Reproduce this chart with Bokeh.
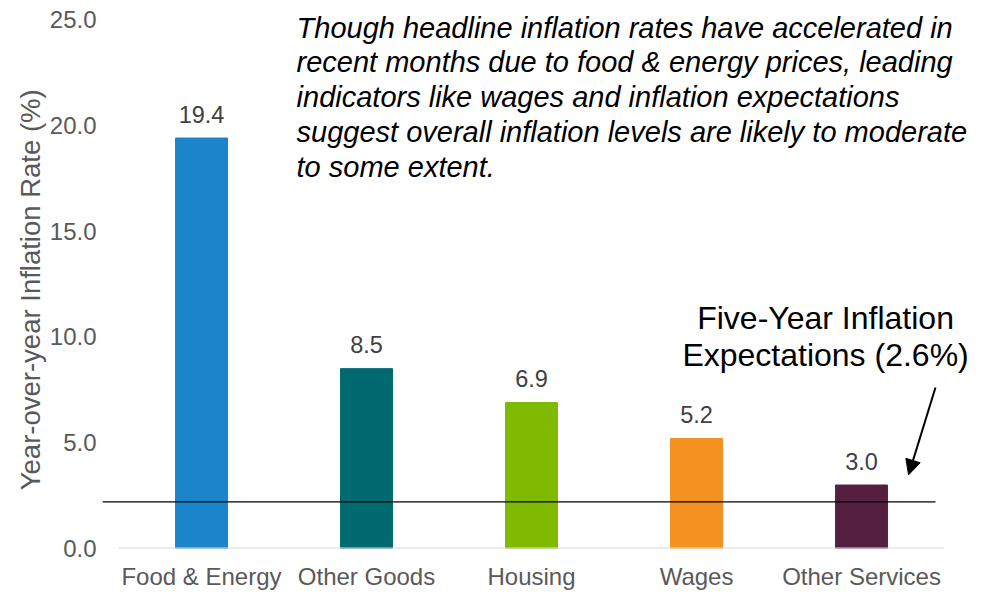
from bokeh.plotting import figure
from bokeh.models import Range1d, ColumnDataSource, Label, Arrow, NormalHead, FixedTicker
from bokeh.core.properties import value
from bokeh.embed import file_html
from bokeh.resources import INLINE

# ---- data ----
categories = ["Food & Energy", "Other Goods", "Housing", "Wages", "Other Services"]
rates = [19.4, 8.5, 6.9, 5.2, 3.0]
bar_colors = ["#1a86c9", "#006a70", "#7fba00", "#f39121", "#55203f"]
expectation_level = 2.2          # line position as drawn in the picture
expectation_text = ["Five-Year Inflation", "Expectations (2.6%)"]
y_ticks = [0, 5, 10, 15, 20, 25]
y_title = "Year-over-year Inflation Rate (%)"
note_lines = [
    "Though headline inflation rates have accelerated in",
    "recent months due to food & energy prices, leading",
    "indicators like wages and inflation expectations",
    "suggest overall inflation levels are likely to moderate",
    "to some extent.",
]

FONT = "Liberation Sans"
xs = list(range(len(categories)))

p = figure(width=984, height=592, output_backend="svg", toolbar_location=None,
           x_range=Range1d(-0.6, 4.739), y_range=Range1d(0, 25.9),
           min_border_left=102, min_border_right=1, min_border_top=0, min_border_bottom=34)
p.outline_line_color = None
p.grid.visible = False
p.background_fill_color = "white"
p.border_fill_color = "white"

src = ColumnDataSource(dict(x=xs, top=rates, color=bar_colors,
                            lbl=[f"{v:.1f}" for v in rates]))
p.vbar(x="x", top="top", width=0.315, color="color", source=src)

# value labels
p.text(x="x", y="top", text="lbl", source=src, text_align="center",
       text_baseline="alphabetic", y_offset=-24, text_font=value(FONT),
       text_font_size="23.5px", text_color="#404040")

# category baseline
p.segment(x0=[-0.5], x1=[4.5], y0=[0], y1=[0], line_color="#d9d9d9", line_width=2)

# expectation line
p.segment(x0=[-0.6], x1=[4.448], y0=[expectation_level], y1=[expectation_level],
          line_color="black", line_width=1.3)

# axes
xa = p.xaxis[0]
xa.ticker = FixedTicker(ticks=xs)
xa.major_label_overrides = {i: c for i, c in zip(xs, categories)}
xa.axis_line_color = None
xa.major_tick_line_color = None
xa.minor_tick_line_color = None
xa.major_label_standoff = 8
xa.major_label_text_font = FONT
xa.major_label_text_font_size = "24px"
xa.major_label_text_color = "#595959"

ya = p.yaxis[0]
ya.ticker = FixedTicker(ticks=y_ticks)
ya.major_label_overrides = {t: f"{t:.1f}" for t in y_ticks}
ya.axis_line_color = None
ya.major_tick_line_color = None
ya.minor_tick_line_color = None
ya.major_label_standoff = 0
ya.major_label_text_font = FONT
ya.major_label_text_font_size = "24px"
ya.major_label_text_color = "#595959"
# trailing no-break spaces nudge the centred title down to match the reference
ya.axis_label = y_title + "\u00a0" * 4
ya.axis_label_text_font = FONT
ya.axis_label_text_font_size = "27.5px"
ya.axis_label_text_font_style = "normal"
ya.axis_label_text_color = "#595959"
ya.axis_label_standoff = 1

# note text (italic)
note_y = [24.62, 22.98, 21.34, 19.69, 18.05]
for t, yy in zip(note_lines, note_y):
    p.add_layout(Label(x=0.576, y=yy, text=t, text_align="left", text_baseline="middle",
                       text_font=FONT, text_font_size="29px", text_font_style="italic",
                       text_color="black"))

# expectation annotation
for t, yy in zip(expectation_text, [10.90, 9.16]):
    p.add_layout(Label(x=3.782, y=yy, text=t, text_align="center", text_baseline="middle",
                       text_font=FONT, text_font_size="32px", text_color="black"))

p.add_layout(Arrow(end=NormalHead(size=15, fill_color="black", line_color="black"),
                   x_start=4.448, y_start=7.61, x_end=4.285, y_end=3.48,
                   line_color="black", line_width=2))

open("out.html", "w").write(file_html(p, INLINE))
